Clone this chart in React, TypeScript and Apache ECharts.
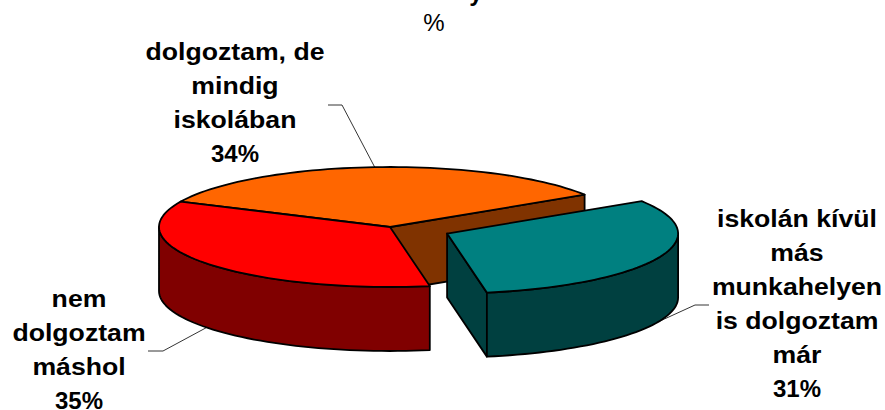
import React, { useEffect, useRef } from "react";
import * as echarts from "echarts";

const categories = ["dolgoztam, de\nmindig\niskolában", "nem\ndolgoztam\nmáshol", "iskolán kívül\nmás\nmunkahelyen\nis dolgoztam\nmár"];
const values = [34, 34.7, 31.3];
const topColors = ["#FF6600", "#FF0000", "#008080"];
const wallColors = ["#803300", "#800000", "#004040"];
const titleLines = ["y", "%"];

const START_DEG = 32.6;
const CX = 390, CY = 227, RX = 231, RY = 60, DEPTH = 64;
const EXPLODE = [0, 0, 0.27];
const FONT = "Liberation Sans, Arial, sans-serif";
const LINE = 34;
const STRETCH = 1.11;
const LABELS = [
  { x: 235, top: 34.5, anchor: [342, 105], end: [328, 105], wall: false },
  { x: 79, top: 281, anchor: [163, 351], end: [148, 351], wall: true },
  { x: 797, top: 201.5, anchor: [695, 305], end: [709, 305], wall: true },
];

function renderSlice(params: any, api: any) {
  const i = params.dataIndex;
  const total = values.reduce((a, b) => a + b, 0);
  const before = values.slice(0, i).reduce((a, b) => a + b, 0);
  const t0 = START_DEG + (before / total) * 360;
  const t1 = t0 + (api.value(0) / total) * 360;
  const rad = (d: number) => (d * Math.PI) / 180;
  const mid = (t0 + t1) / 2;
  const cx = CX + EXPLODE[i] * RX * Math.cos(rad(mid));
  const cy = CY - EXPLODE[i] * RY * Math.sin(rad(mid));
  const pt = (t: number, dz = 0) => [cx + RX * Math.cos(rad(t)), cy - RY * Math.sin(rad(t)) + dz];
  const arc = (a: number, b: number, dz = 0) => {
    const n = Math.max(2, Math.ceil(Math.abs(b - a) / 2));
    return Array.from({ length: n + 1 }, (_, k) => pt(a + ((b - a) * k) / n, dz));
  };
  const stroke = { stroke: "#000", lineWidth: 1.8, lineJoin: "round" };
  const poly = (points: number[][], fill: string) => ({
    type: "polygon", shape: { points }, style: { fill, ...stroke },
  });
  const children: any[] = [];
  // Cut face at the slice's start angle, visible when it looks towards the viewer.
  const p0 = pt(t0);
  if (i === 0 || i === 2) {
    children.push(poly([[cx, cy], p0, [p0[0], p0[1] + DEPTH], [cx, cy + DEPTH]], wallColors[i]));
  }
  // Outer wall on the front half of the rim (180..360 degrees).
  const s = Math.max(t0, 180);
  const e = Math.min(t1, 360);
  if (e > s) {
    children.push(poly([...arc(s, e), ...arc(e, s, DEPTH)], wallColors[i]));
  }
  children.push(poly([[cx, cy], ...arc(t0, t1)], topColors[i]));
  // Leader line from the rim to its label.
  const lab = LABELS[i];
  const rim = pt(mid, lab.wall ? DEPTH : 0);
  children.push({
    type: "polyline",
    shape: { points: [rim, lab.anchor, lab.end] },
    style: { stroke: "#000", lineWidth: 0.8, fill: "none" },
  });
  return { type: "group", children };
}

export default function App() {
  const ref = useRef<HTMLDivElement>(null);
  useEffect(() => {
    const chart = echarts.init(ref.current!, null, { renderer: "svg" });
    const labelTexts: any[] = [];
    LABELS.forEach((l, i) => {
      const n = categories[i].split("\n").length;
      labelTexts.push({
        type: "text", x: l.x, y: l.top, scaleX: STRETCH, z: 10,
        style: {
          text: categories[i], font: `bold 24px ${FONT}`, lineHeight: LINE,
          fill: "#000", align: "center", verticalAlign: "top",
        },
      });
      labelTexts.push({
        type: "text", x: l.x, y: l.top + n * LINE, z: 10,
        style: {
          text: `${Math.round(values[i])}%`, font: `bold 24px ${FONT}`, lineHeight: LINE,
          fill: "#000", align: "center", verticalAlign: "top",
        },
      });
    });
    chart.setOption({
      animation: false,
      backgroundColor: "#fff",
      series: [
        {
          type: "custom",
          coordinateSystem: "none",
          renderItem: renderSlice,
          data: values.map((v, i) => ({ value: [v], name: categories[i] })),
          silent: true,
        },
      ],
      graphic: [
        { type: "text", x: 476, y: -20, z: 10, style: { text: titleLines[0], font: `bold 24px ${FONT}`, fill: "#000", align: "center", verticalAlign: "top" } },
        { type: "text", x: 434, y: 22, z: 10, style: { text: titleLines[1], font: `24px ${FONT}`, fill: "#000", align: "center", verticalAlign: "middle" } },
        ...labelTexts,
      ],
    });
    return () => chart.dispose();
  }, []);
  return <div ref={ref} style={{ position: "absolute", left: 0, top: 0, width: 885, height: 410 }} />;
}
